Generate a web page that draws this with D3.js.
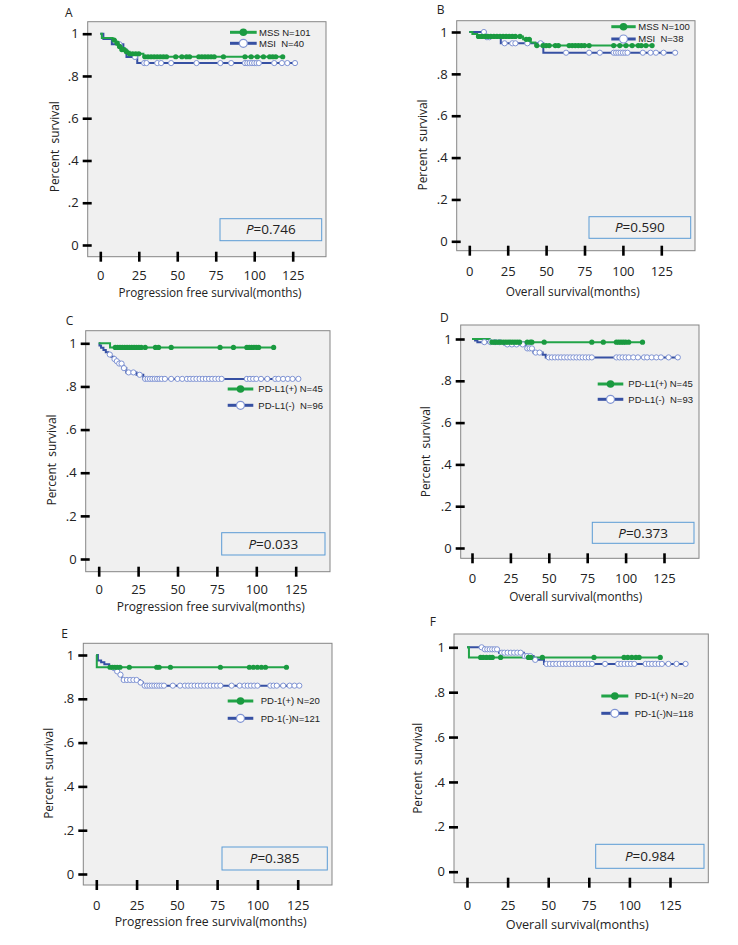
<!DOCTYPE html>
<html><head><meta charset="utf-8">
<script src="https://cdn.jsdelivr.net/npm/d3@7"></script>
<style>
body{margin:0;background:#fff;}
svg{display:block;font-family:"Open Sans",sans-serif;}
text{white-space:pre;}
</style></head>
<body><svg id="c" width="738" height="945"></svg>
<script>
// ---------------- DATA ----------------
const xTicks = [0, 25, 50, 75, 100, 125];
const yTicks = [0, 0.2, 0.4, 0.6, 0.8, 1];
const yTickLabels = ["0", ".2", ".4", ".6", ".8", "1"];
const panelLetters = ["A", "B", "C", "D", "E", "F"];
const xTitles = ["Progression free survival(months)", "Overall survival(months)",
  "Progression free survival(months)", "Overall survival(months)",
  "Progression free survival(months)", "Overall survival(months)"];
const pValues = ["0.746", "0.590", "0.033", "0.373", "0.385", "0.984"];
const legendPos = ["MSS N=101", "MSS N=100", "PD-L1(+) N=45", "PD-L1(+) N=45", "PD-1(+) N=20", "PD-1(+) N=20"];
const legendNeg = ["MSI  N=40", "MSI  N=38", "PD-L1(-)  N=96", "PD-L1(-)  N=93", "PD-1(-)N=121", "PD-1(-)N=118"];

// Panel A (green = MSS, blue = MSI)
const A_g_t = [0, 1, 8, 10, 12, 14, 16, 19, 28];
const A_g_s = [1.0, 0.98, 0.97, 0.955, 0.94, 0.925, 0.915, 0.905, 0.891];
const A_g_c = [9, 11, 12.5, 14, 15.5, 17, 19, 21, 23, 25, 29, 31, 33, 35, 37, 39, 41, 43, 49, 53, 56, 58, 64, 66, 68, 70, 72, 74, 80, 94, 98, 102, 106, 110, 112, 114, 118.5];
const A_g_end = 118.5;
const A_b_t = [0, 2, 7.5, 15, 17, 24];
const A_b_s = [1.0, 0.975, 0.95, 0.925, 0.89, 0.861];
const A_b_c = [12.5, 22.5, 28.5, 30, 37, 39.5, 46, 62.5, 78, 85, 94, 95.5, 97, 98.5, 100, 101.5, 103, 113, 118, 121.5, 126.5];
const A_b_end = 126.5;

// Panel B
const B_g_t = [0, 2, 5, 35, 40, 43];
const B_g_s = [1.0, 0.99, 0.979, 0.965, 0.95, 0.935];
const B_g_c = [6, 8, 10, 12, 14, 16, 18, 20, 22, 24, 26, 28, 30, 33, 37, 39, 44, 48, 50, 52, 56, 58, 65, 67, 69, 71, 73, 75, 78, 94, 98, 102, 106, 110, 112, 115, 119];
const B_g_end = 119;
const B_b_t = [0, 10.5, 20.5, 48.2];
const B_b_s = [1.0, 0.975, 0.946, 0.901];
const B_b_c = [9.5, 11.5, 13, 23, 28, 30, 37.8, 46.4, 63, 78, 85, 94, 95.5, 97, 98.5, 100, 101.5, 103, 113, 118, 121.5, 126.5, 134];
const B_b_end = 134;

// Panel C
const C_g_t = [0, 7.2];
const C_g_s = [1.0, 0.981];
const C_g_c = [10.5, 12, 13.5, 15, 16.5, 18, 19.5, 21, 22.5, 24, 25.5, 27, 29.5, 36, 38, 46, 77, 85.5, 94, 95.5, 97, 98.5, 100, 101.5, 111];
const C_g_end = 111;
const C_b_t = [0, 0.5, 1.5, 3, 4.5, 6, 8, 9.5, 11, 13, 15, 16, 17.5, 24, 28.3];
const C_b_s = [1.0, 0.99, 0.979, 0.969, 0.958, 0.948, 0.938, 0.927, 0.917, 0.906, 0.896, 0.885, 0.865, 0.854, 0.835];
const C_b_c = [7, 10, 11.5, 13, 14.5, 16, 19, 22, 26, 29.5, 31, 32.5, 34, 35.5, 37, 38.5, 40, 42, 46, 50, 53, 56, 58, 60, 62, 64, 66, 68, 70, 72, 74, 76, 78, 94, 96, 98, 100, 103, 107, 112, 114, 117, 120, 123, 126.7];
const C_b_end = 126.7;

// Panel D
const D_g_t = [0, 11.5];
const D_g_s = [1.0, 0.985];
const D_g_c = [13, 14.5, 16, 17.5, 19, 20.5, 22, 23.5, 25, 26.5, 28, 29.5, 31, 36, 38, 39, 47, 78, 85.5, 94, 95.5, 97, 98.5, 100, 102, 111];
const D_g_end = 111.3;
const D_b_t = [0, 2, 3.5, 21, 35, 40, 46, 48];
const D_b_s = [1.0, 0.993, 0.985, 0.974, 0.955, 0.935, 0.925, 0.912];
const D_b_c = [8, 12, 15, 18, 23, 26, 29, 33, 36, 37.5, 39, 41.5, 44, 50, 52, 54, 56, 58, 60, 62, 64, 66, 68, 70, 72, 74, 76, 78, 94, 96, 98, 100, 102, 105, 108, 112, 114, 117, 120, 123, 128, 134];
const D_b_end = 134;

// Panel E
const E_g_t = [0, 0.3];
const E_g_s = [1.0, 0.944];
const E_g_c = [8.5, 10, 11.5, 13, 14.7, 20.5, 37.5, 39, 46, 77, 95, 97.5, 100, 102.5, 105, 118];
const E_g_end = 118;
const E_b_t = [0, 1, 3, 5, 8, 10, 12, 14, 16, 27, 29];
const E_b_s = [1.0, 0.975, 0.967, 0.958, 0.95, 0.94, 0.925, 0.91, 0.886, 0.874, 0.86];
const E_b_c = [11, 13, 15, 17, 19, 21, 23, 25, 27.5, 30, 31.5, 33, 34.5, 36, 37.5, 39, 40.5, 42, 47.5, 52, 55, 57, 59, 61, 63, 65, 67, 69, 71, 73, 75, 77, 84, 89, 92, 94, 96, 98, 100, 108, 110, 112, 116, 120, 123, 126];
const E_b_end = 126;

// Panel F
const F_g_t = [0, 1.2];
const F_g_s = [1.0, 0.955];
const F_g_c = [8.4, 10, 12, 14, 15.6, 20.7, 37.8, 39.2, 46.4, 78.2, 96.7, 99, 101.5, 104, 106, 119];
const F_g_end = 119;
const F_b_t = [0, 10.5, 19.7, 35, 41, 47.4];
const F_b_s = [1.0, 0.991, 0.976, 0.961, 0.944, 0.926];
const F_b_c = [9, 11, 12.5, 14, 15.5, 17, 18.5, 21.5, 23, 25, 27, 29, 31, 33, 35.5, 37, 39, 42, 49, 51, 53, 55, 57, 59, 61, 63, 65, 67, 69, 71, 73, 75, 77, 85, 93, 95, 97, 99, 101, 103, 110, 112, 114, 116, 118, 120, 124, 129, 134.6];
const F_b_end = 134.6;

const greenSeries = [
  {t: A_g_t, s: A_g_s, c: A_g_c, end: A_g_end}, {t: B_g_t, s: B_g_s, c: B_g_c, end: B_g_end},
  {t: C_g_t, s: C_g_s, c: C_g_c, end: C_g_end}, {t: D_g_t, s: D_g_s, c: D_g_c, end: D_g_end},
  {t: E_g_t, s: E_g_s, c: E_g_c, end: E_g_end}, {t: F_g_t, s: F_g_s, c: F_g_c, end: F_g_end}];
const blueSeries = [
  {t: A_b_t, s: A_b_s, c: A_b_c, end: A_b_end}, {t: B_b_t, s: B_b_s, c: B_b_c, end: B_b_end},
  {t: C_b_t, s: C_b_s, c: C_b_c, end: C_b_end}, {t: D_b_t, s: D_b_s, c: D_b_c, end: D_b_end},
  {t: E_b_t, s: E_b_s, c: E_b_c, end: E_b_end}, {t: F_b_t, s: F_b_s, c: F_b_c, end: F_b_end}];

// ---------------- LAYOUT ----------------
const layout = [
  {frame:[87.7,21.7,326,256.7], x:[100.3,292.7], y:[245,33.7], tickLblY:275, titleY:292, titleW:183, titleX:210,
   yTitle:[54.3,146.7], letter:[65,13], pbox:[220,218.7,321.7,240.7], leg:[230,256.7,32.3,43.3,259]},
  {frame:[456.7,20.7,695,250.7], x:[469.3,661.3], y:[241.3,32], tickLblY:271.7, titleY:291, titleW:134, titleX:572.7,
   yTitle:[422.3,145], letter:[436.7,10], pbox:[589,216.7,690.7,238.3], leg:[611.3,635.7,26.7,39,638.3]},
  {frame:[85.7,330.7,330,571.7], x:[98.7,295.7], y:[559,343.3], tickLblY:589.3, titleY:606.7, titleW:188, titleX:210.7,
   yTitle:[51.7,460], letter:[65.7,320.7], pbox:[221.7,532.7,325,555], leg:[227.7,253.3,389,405.3,258.3]},
  {frame:[460.7,325,699,558.3], x:[472,664], y:[548,339], tickLblY:578.3, titleY:596, titleW:133, titleX:575.7,
   yTitle:[425.7,451.7], letter:[440,317.3], pbox:[592.3,522.3,694,543.3], leg:[597.7,623.3,384,399.3,628.3]},
  {frame:[83.3,643.3,332,885], x:[96.3,297.7], y:[874,655], tickLblY:905, titleY:921.7, titleW:192, titleX:210.7,
   yTitle:[48.3,773.3], letter:[61.3,633.3], pbox:[222,847,327.3,870], leg:[227.7,253.3,701,718.3,260.7]},
  {frame:[454,634,708.3,882.7], x:[467,670], y:[871.7,647.3], tickLblY:905, titleY:924, titleW:143, titleX:577.3,
   yTitle:[417.3,768.3], letter:[429.7,622], pbox:[595.7,844.3,704,868.3], leg:[601.3,628.3,696,713.3,634.7]}
];

const GREEN = "#22a448", GREEN_DOT = "#1a9a40", BLUE = "#3650a3", CIRC = "#7f93d3";

const svg = d3.select("#c");

layout.forEach((L, i) => {
  const g = svg.append("g");
  const [fl, ft, fr, fb] = L.frame;
  const x = d3.scaleLinear().domain([0, 125]).range(L.x);
  const y = d3.scaleLinear().domain([0, 1]).range(L.y);

  g.append("rect").attr("x", fl).attr("y", ft).attr("width", fr - fl).attr("height", fb - ft)
    .attr("fill", "#f0f0f0").attr("stroke", "#858585").attr("stroke-width", 1);

  // axes
  const ya = d3.axisLeft(y).tickValues(yTicks).tickSizeInner(9).tickSizeOuter(0)
    .tickFormat((d, k) => yTickLabels[k]).tickPadding(4);
  const yg = g.append("g").attr("transform", `translate(${fl + 4},0)`).call(ya);
  yg.select(".domain").remove();
  yg.selectAll(".tick line").attr("stroke", "#000").attr("stroke-width", 2.6);
  yg.selectAll(".tick text").attr("font-size", 13).attr("fill", "#222")
    .attr("font-family", "Open Sans, sans-serif");

  const xa = d3.axisBottom(x).tickValues(xTicks).tickSizeInner(10).tickSizeOuter(0).tickFormat(d3.format("d"));
  const xg = g.append("g").attr("transform", `translate(0,${fb - 5})`).call(xa);
  xg.select(".domain").remove();
  xg.selectAll(".tick line").attr("stroke", "#000").attr("stroke-width", 2.6);
  xg.selectAll(".tick text").attr("font-size", 13).attr("fill", "#222")
    .attr("font-family", "Open Sans, sans-serif")
    .attr("y", L.tickLblY - (fb - 5)).attr("dy", "0.35em");

  // titles
  g.append("text").attr("x", L.titleX).attr("y", L.titleY).attr("dy", "0.35em")
    .attr("text-anchor", "middle").attr("font-size", 13.5).attr("fill", "#222")
    .attr("textLength", L.titleW).attr("lengthAdjust", "spacingAndGlyphs").text(xTitles[i]);
  g.append("text").attr("transform", `translate(${L.yTitle[0]},${L.yTitle[1]}) rotate(-90)`)
    .attr("dy", "0.35em").attr("text-anchor", "middle").attr("font-size", 13.5).attr("fill", "#222")
    .attr("textLength", 91).attr("lengthAdjust", "spacingAndGlyphs").text("Percent  survival");
  g.append("text").attr("x", L.letter[0]).attr("y", L.letter[1]).attr("dy", "0.35em")
    .attr("font-size", 12).attr("fill", "#222").text(panelLetters[i]);

  // p box
  const [bx0, by0, bx1, by1] = L.pbox;
  g.append("rect").attr("x", bx0).attr("y", by0).attr("width", bx1 - bx0).attr("height", by1 - by0)
    .attr("fill", "#f0f0f0").attr("stroke", "#5b9bd5").attr("stroke-width", 1);
  const pt = g.append("text").attr("x", (bx0 + bx1) / 2).attr("y", (by0 + by1) / 2).attr("dy", "0.35em")
    .attr("text-anchor", "middle").attr("font-size", 13.5).attr("fill", "#222");
  pt.append("tspan").attr("font-style", "italic").text("P");
  pt.append("tspan").text("=" + pValues[i]);

  // curves
  const line = d3.line().x(d => x(d[0])).y(d => y(d[1])).curve(d3.curveStepAfter);
  function pts(S) {
    const p = S.t.map((t, k) => [t, S.s[k]]);
    p.push([S.end, S.s[S.s.length - 1]]);
    return p;
  }
  function survAt(S, c) {
    const k = Math.max(0, d3.bisectRight(S.t, c) - 1);
    return S.s[k];
  }
  const B = blueSeries[i], G = greenSeries[i];
  g.append("path").datum(pts(B)).attr("d", line).attr("fill", "none").attr("stroke", BLUE).attr("stroke-width", 2);
  g.append("path").datum(pts(G)).attr("d", line).attr("fill", "none").attr("stroke", GREEN).attr("stroke-width", 2);
  g.selectAll(".bc").data(B.c).join("circle").attr("cx", d => x(d)).attr("cy", d => y(survAt(B, d)))
    .attr("r", 2.6).attr("fill", "#fff").attr("stroke", CIRC).attr("stroke-width", 1);
  g.selectAll(".gc").data(G.c).join("circle").attr("cx", d => x(d)).attr("cy", d => y(survAt(G, d)))
    .attr("r", 2.6).attr("fill", GREEN_DOT);

  // legend
  const [lx0, lx1, ly1, ly2, ltx] = L.leg;
  const lm = (lx0 + lx1) / 2;
  g.append("line").attr("x1", lx0).attr("x2", lx1).attr("y1", ly1).attr("y2", ly1).attr("stroke", GREEN).attr("stroke-width", 3);
  g.append("circle").attr("cx", lm).attr("cy", ly1).attr("r", 3.8).attr("fill", GREEN_DOT);
  g.append("line").attr("x1", lx0).attr("x2", lx1).attr("y1", ly2).attr("y2", ly2).attr("stroke", BLUE).attr("stroke-width", 3);
  g.append("circle").attr("cx", lm).attr("cy", ly2).attr("r", 4).attr("fill", "#fff").attr("stroke", CIRC).attr("stroke-width", 1.2);
  g.append("text").attr("x", ltx).attr("y", ly1).attr("dy", "0.35em").attr("font-family", "Liberation Sans, Arial, sans-serif")
    .attr("font-size", 9.5).attr("fill", "#222").text(legendPos[i]);
  g.append("text").attr("x", ltx).attr("y", ly2).attr("dy", "0.35em").attr("font-family", "Liberation Sans, Arial, sans-serif")
    .attr("font-size", 9.5).attr("fill", "#222").text(legendNeg[i]);
});
</script>
</body></html>
